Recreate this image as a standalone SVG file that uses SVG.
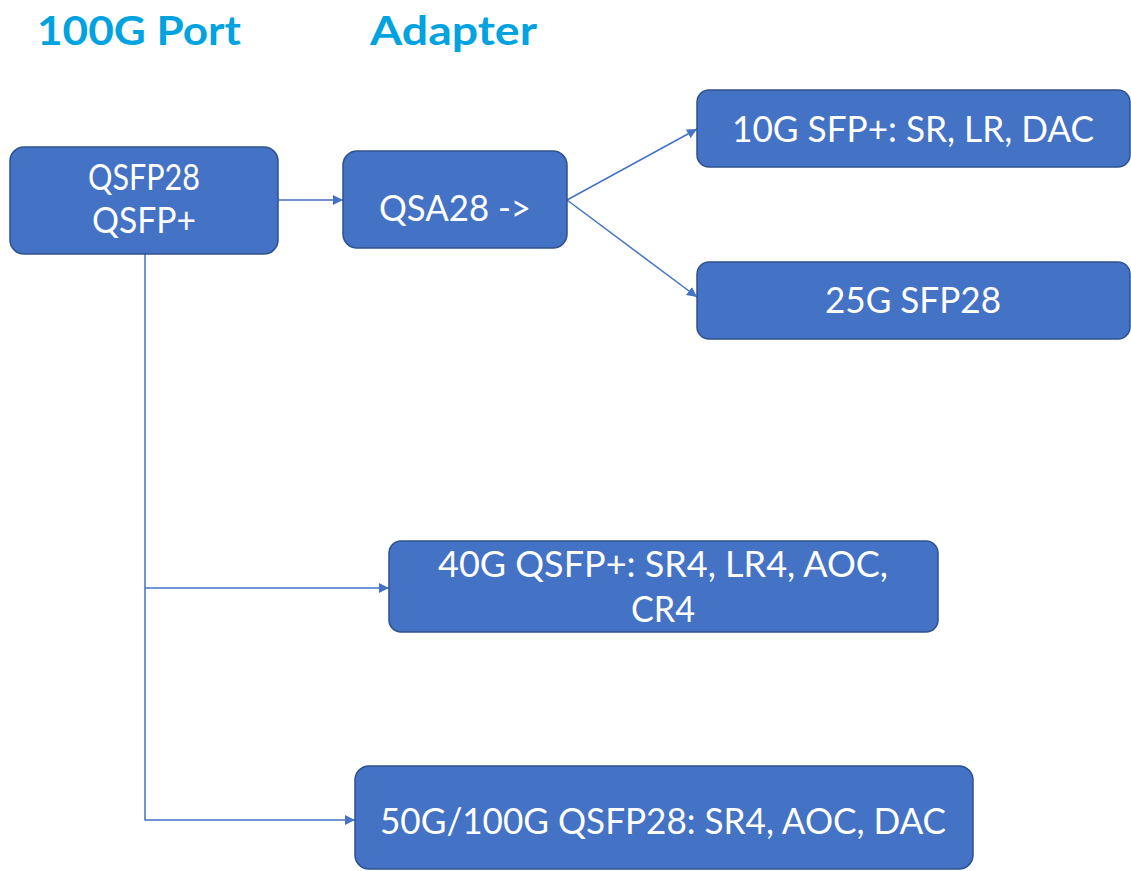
<svg xmlns="http://www.w3.org/2000/svg" width="1131" height="871" viewBox="0 0 1131 871">
<defs>
<marker id="arr" viewBox="0 0 10 10" refX="10" refY="5" markerWidth="10" markerHeight="10" markerUnits="userSpaceOnUse" orient="auto">
<path d="M0,0 L10,5 L0,10 z" fill="#4472C4"/>
</marker>
</defs>
<style>
.box{fill:#4472C4;stroke:#2F528F;stroke-width:1.5}
.t{fill:#fff;font-family:Lato,"Open Sans","Liberation Sans",sans-serif;font-size:37px;text-anchor:middle}
.h{fill:#00A3E0;font-family:Lato,"Open Sans","Liberation Sans",sans-serif;font-size:40px;font-weight:bold}
.c{fill:none;stroke:#4472C4;stroke-width:1.5}
</style>
<rect width="1131" height="871" fill="#fff"/>
<g id="titles">
<text class="h" x="37" y="45" textLength="204" lengthAdjust="spacingAndGlyphs">100G Port</text>
<text class="h" x="370" y="45" textLength="167" lengthAdjust="spacingAndGlyphs">Adapter</text>
</g>
<g id="connectors">
<path class="c" d="M278,200 H343" marker-end="url(#arr)"/>
<path class="c" d="M567,200 L697,129" marker-end="url(#arr)"/>
<path class="c" d="M567,200 L697,297" marker-end="url(#arr)"/>
<path class="c" d="M145,254 V820 H355" marker-end="url(#arr)"/>
<path class="c" d="M145,588 H389" marker-end="url(#arr)"/>
</g>
<g id="n_port">
<rect class="box" x="10" y="147" width="268" height="107" rx="14"/>
<text class="t" x="144" y="190" textLength="112" lengthAdjust="spacingAndGlyphs">QSFP28</text>
<text class="t" x="144" y="233" textLength="104" lengthAdjust="spacingAndGlyphs">QSFP+</text>
</g>
<g id="n_qsa">
<rect class="box" x="343" y="151" width="224" height="97" rx="14"/>
<text class="t" x="455" y="221" textLength="152" lengthAdjust="spacingAndGlyphs">QSA28 -&gt;</text>
</g>
<g id="n_10g">
<rect class="box" x="697" y="90" width="433" height="77" rx="12"/>
<text class="t" x="913" y="142" textLength="362" lengthAdjust="spacingAndGlyphs">10G SFP+: SR, LR, DAC</text>
</g>
<g id="n_25g">
<rect class="box" x="697" y="262" width="433" height="77" rx="12"/>
<text class="t" x="913" y="313" textLength="176" lengthAdjust="spacingAndGlyphs">25G SFP28</text>
</g>
<g id="n_40g">
<rect class="box" x="389" y="541" width="549" height="91" rx="12"/>
<text class="t" x="663" y="577" textLength="450" lengthAdjust="spacingAndGlyphs">40G QSFP+: SR4, LR4, AOC,</text>
<text class="t" x="663" y="622" textLength="64" lengthAdjust="spacingAndGlyphs">CR4</text>
</g>
<g id="n_50g">
<rect class="box" x="355" y="766" width="618" height="103" rx="14"/>
<text class="t" x="663" y="834" textLength="566" lengthAdjust="spacingAndGlyphs">50G/100G QSFP28: SR4, AOC, DAC</text>
</g>
</svg>
